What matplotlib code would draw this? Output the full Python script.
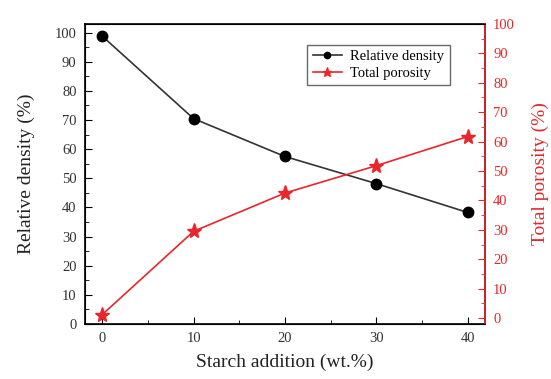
import matplotlib as mpl
import matplotlib.pyplot as plt
from matplotlib.ticker import MultipleLocator

mpl.rcParams['font.family'] = 'Liberation Serif'

starch = [0, 10, 20, 30, 40]
rel_density = [98.8, 70.5, 57.5, 48.2, 38.3]
porosity = [1.2, 29.5, 42.5, 51.8, 61.7]

red = '#e8262b'

fig = plt.figure(figsize=(5.51, 3.79), dpi=100)
ax = fig.add_axes([0.154, 0.145, 0.726, 0.792])
ax2 = ax.twinx()

l1, = ax.plot(starch, rel_density, color='#333333', lw=1.2, marker='o', ms=7.5,
              mfc='black', mec='black', label='Relative density')
l2, = ax2.plot(starch, porosity, color=red, lw=1.2, marker='*', ms=11,
               mfc=red, mec=red, label='Total porosity')

ax.set_xlim(-1.9, 41.9)
ax.set_ylim(0, 103)
ax2.set_ylim(-2, 100)

ax.xaxis.set_major_locator(MultipleLocator(10))
ax.xaxis.set_minor_locator(MultipleLocator(5))
ax.yaxis.set_major_locator(MultipleLocator(10))
ax.yaxis.set_minor_locator(MultipleLocator(5))
ax2.yaxis.set_major_locator(MultipleLocator(10))
ax2.yaxis.set_minor_locator(MultipleLocator(5))

ax.tick_params(direction='in', which='major', length=5, labelsize=10.5,
               labelcolor='#333333', pad=6)
ax.tick_params(direction='in', which='minor', length=3)
ax2.tick_params(direction='in', which='major', length=5, labelsize=10.5, colors=red, pad=6)
ax2.tick_params(direction='in', which='minor', length=3, colors=red)
ax2.spines['right'].set_color(red)

for sp in ax.spines.values():
    sp.set_linewidth(1.2)
ax2.spines['right'].set_linewidth(1.2)

ax.set_xlabel('Starch addition (wt.%)', fontsize=14, color='#222222', labelpad=6)
ax.set_ylabel('Relative density (%)', fontsize=14, color='#222222', labelpad=14)
ax2.set_ylabel('Total porosity (%)', fontsize=14, color=red, labelpad=12)

leg = ax.legend(handles=[l1, l2], loc='upper right', bbox_to_anchor=(0.93, 0.955),
                fontsize=10.5, frameon=True, fancybox=False, edgecolor='#444444',
                handlelength=2.0, borderpad=0.35, labelspacing=0.25, markerscale=0.6,
                handletextpad=0.6)
leg.get_frame().set_linewidth(1.0)

fig.savefig('out.png', dpi=100)
